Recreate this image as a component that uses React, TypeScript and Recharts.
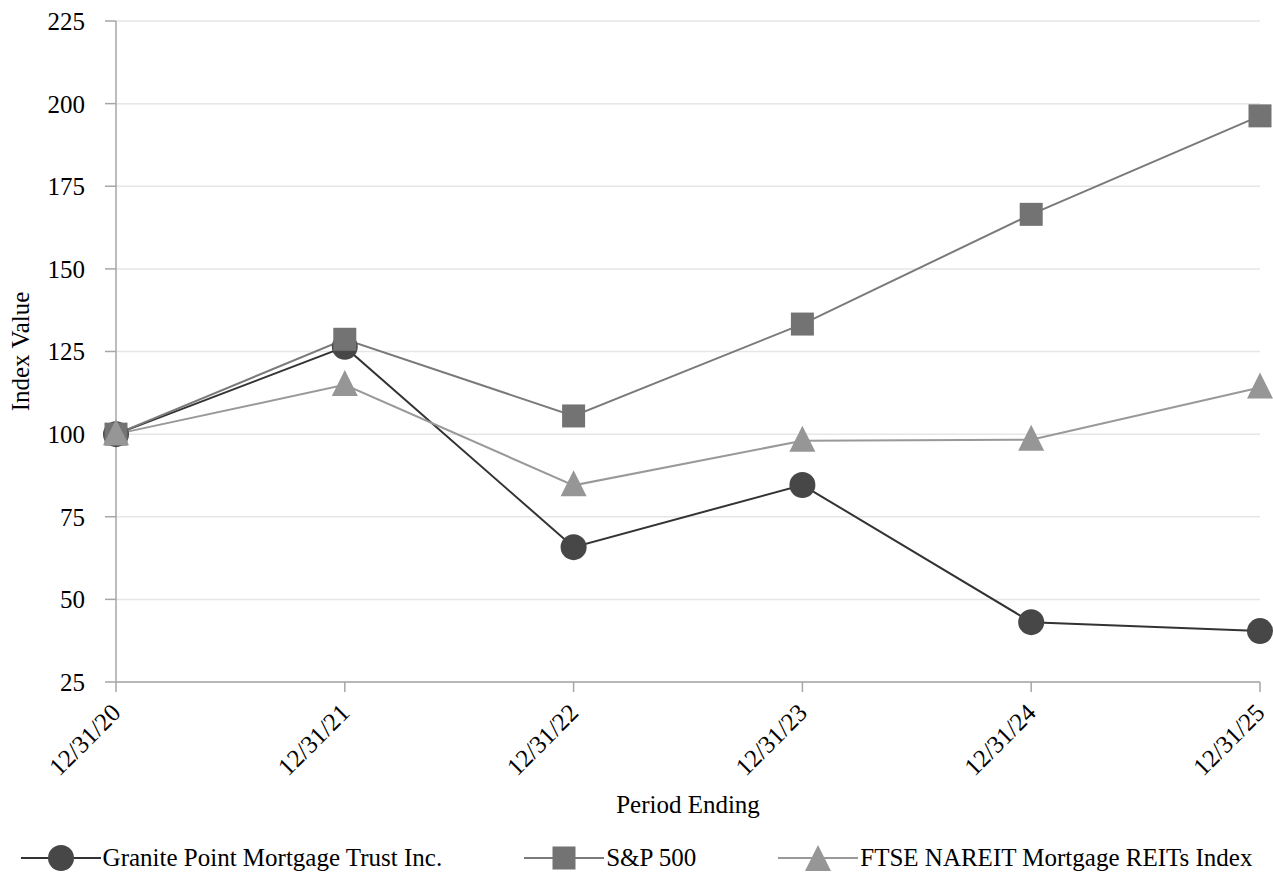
import { LineChart, Line, XAxis, YAxis, CartesianGrid } from "recharts";

const periods = ["12/31/20", "12/31/21", "12/31/22", "12/31/23", "12/31/24", "12/31/25"];
const granitePoint = [100, 126.4, 65.8, 84.6, 43.1, 40.4];
const sp500 = [100, 128.7, 105.5, 133.3, 166.5, 196.3];
const ftseNareit = [100, 114.9, 84.5, 98.0, 98.3, 114.1];
const yTicks = [25, 50, 75, 100, 125, 150, 175, 200, 225];

const FONT = '"Liberation Serif", "Times New Roman", serif';
const AXIS_COLOR = "#a6a6a6";

const data = periods.map((p, i) => ({
  period: p,
  granite: granitePoint[i],
  sp: sp500[i],
  ftse: ftseNareit[i],
}));

function CircleDot(props: any) {
  const { cx, cy } = props;
  if (cx == null || cy == null) return null;
  return <circle cx={cx} cy={cy} r={13} fill="#474747" />;
}

function SquareDot(props: any) {
  const { cx, cy } = props;
  if (cx == null || cy == null) return null;
  return <rect x={cx - 11.5} y={cy - 11.5} width={23} height={23} fill="#737373" />;
}

function TriangleDot(props: any) {
  const { cx, cy } = props;
  if (cx == null || cy == null) return null;
  return (
    <polygon
      points={`${cx},${cy - 15} ${cx + 13},${cy + 11} ${cx - 13},${cy + 11}`}
      fill="#969696"
    />
  );
}

function XTick(props: any) {
  const { x, y, payload } = props;
  return (
    <g transform={`translate(${x},${y + 14})`}>
      <text
        x={0}
        y={0}
        dy="0.35em"
        textAnchor="end"
        transform="rotate(-45)"
        fontFamily={FONT}
        fontSize={25}
        fill="#000"
      >
        {payload.value}
      </text>
    </g>
  );
}

const legendItems = [
  { name: "Granite Point Mortgage Trust Inc.", line: "#333333", shape: "circle" },
  { name: "S&P 500", line: "#7a7a7a", shape: "square" },
  { name: "FTSE NAREIT Mortgage REITs Index", line: "#999999", shape: "triangle" },
];

function LegendIcon({ line, shape }: { line: string; shape: string }) {
  const cx = 40;
  const cy = 15;
  return (
    <svg width={80} height={30} style={{ display: "block", overflow: "visible" }}>
      <line x1={0} y1={cy} x2={80} y2={cy} stroke={line} strokeWidth={2} />
      {shape === "circle" && <CircleDot cx={cx} cy={cy} />}
      {shape === "square" && <SquareDot cx={cx} cy={cy} />}
      {shape === "triangle" && <TriangleDot cx={cx} cy={cy + 2} />}
    </svg>
  );
}

export default function App() {
  return (
    <div
      style={{
        position: "absolute",
        left: 0,
        top: 0,
        width: 1273,
        height: 884,
        background: "#fff",
        overflow: "hidden",
      }}
    >
      <LineChart
        width={1273}
        height={840}
        data={data}
        margin={{ top: 21, right: 13, left: 0, bottom: 18 }}
      >
        <CartesianGrid vertical={false} stroke="#e6e6e6" strokeWidth={1.5} />
        <XAxis
          dataKey="period"
          height={140}
          tick={<XTick />}
          tickSize={10}
          axisLine={{ stroke: AXIS_COLOR, strokeWidth: 1.5 }}
          tickLine={{ stroke: AXIS_COLOR, strokeWidth: 1.5 }}
          interval={0}
          label={{
            value: "Period Ending",
            position: "insideBottom",
            offset: 9,
            style: { fontFamily: FONT, fontSize: 25, fill: "#000" },
          }}
        />
        <YAxis
          width={116}
          domain={[25, 225]}
          ticks={yTicks}
          tickSize={11}
          tickMargin={20}
          tick={{ fontFamily: FONT, fontSize: 25, fill: "#000" }}
          axisLine={{ stroke: AXIS_COLOR, strokeWidth: 1.5 }}
          tickLine={{ stroke: AXIS_COLOR, strokeWidth: 1.5 }}
          label={{
            content: (p: any) => {
              const vb = p.viewBox || { x: 0, y: 0, width: 0, height: 0 };
              const lx = vb.x + 20;
              const ly = vb.y + vb.height / 2;
              return (
                <text
                  x={lx}
                  y={ly}
                  textAnchor="middle"
                  dominantBaseline="central"
                  transform={`rotate(-90, ${lx}, ${ly})`}
                  fontFamily={FONT}
                  fontSize={25}
                  fill="#000"
                >
                  Index Value
                </text>
              );
            },
          }}
        />
        <Line
          dataKey="granite"
          stroke="#333333"
          strokeWidth={2}
          dot={(p: any) => <CircleDot key={`g-${p.index}`} {...p} />}
          activeDot={false}
          isAnimationActive={false}
        />
        <Line
          dataKey="sp"
          stroke="#7a7a7a"
          strokeWidth={2}
          dot={(p: any) => <SquareDot key={`s-${p.index}`} {...p} />}
          activeDot={false}
          isAnimationActive={false}
        />
        <Line
          dataKey="ftse"
          stroke="#999999"
          strokeWidth={2}
          dot={(p: any) => <TriangleDot key={`f-${p.index}`} {...p} />}
          activeDot={false}
          isAnimationActive={false}
        />
      </LineChart>
      <div
        style={{
          position: "absolute",
          left: 0,
          top: 843,
          width: 1273,
          display: "flex",
          justifyContent: "center",
          alignItems: "center",
          gap: 82,
          fontFamily: FONT,
          fontSize: 25,
          whiteSpace: "nowrap",
        }}
      >
        {legendItems.map((item) => (
          <div key={item.name} style={{ display: "flex", alignItems: "center", gap: 2 }}>
            <LegendIcon line={item.line} shape={item.shape} />
            <span style={{ lineHeight: "30px" }}>{item.name}</span>
          </div>
        ))}
      </div>
    </div>
  );
}
